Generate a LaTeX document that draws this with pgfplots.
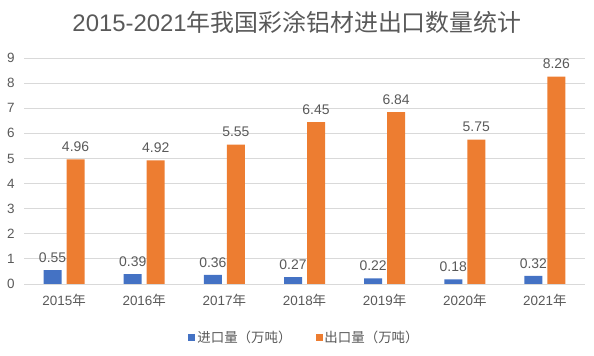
\documentclass[border=0pt]{standalone}
\usepackage{pgfplots}
\pgfplotsset{compat=1.18}
\usepackage{fontspec}
\setmainfont{Liberation Sans}
\newfontfamily\cjk{Noto Sans CJK SC}
\definecolor{cblue}{HTML}{4472C4}
\definecolor{corange}{HTML}{ED7D31}
\definecolor{txt}{HTML}{595959}
\definecolor{gridc}{HTML}{D9D9D9}
\begin{document}
\begin{tikzpicture}
\path[use as bounding box] (0,0) rectangle (594bp,356bp);
\begin{axis}[
  at={(24bp,72bp)}, anchor=south west,
  scale only axis, width=561bp, height=226bp,
  ybar, bar width=18bp,
  xmin=-0.5, xmax=6.5, ymin=0, ymax=9,
  ytick={0,1,...,9},
  xtick=data,
  xticklabels={2015{\cjk 年},2016{\cjk 年},2017{\cjk 年},2018{\cjk 年},2019{\cjk 年},2020{\cjk 年},2021{\cjk 年}},
  /pgf/number format/assume math mode=true,
  ymajorgrids=true, xmajorgrids=false,
  y grid style={draw=gridc, line width=0.9pt},
  axis line style={draw=none},
  major tick length=0pt,
  tick label style={font=\fontsize{13.5}{15}\selectfont, text=txt},
  yticklabel style={xshift=-6bp},
  xticklabel style={yshift=-7bp},
  nodes near coords,
  every node near coord/.append style={font=\fontsize{14}{15}\selectfont, text=txt, yshift=4bp},
  point meta=explicit symbolic,
  legend style={at={(0.5,-0.235)}, anchor=center, draw=none, fill=none, legend columns=2, font=\cjk\fontsize{13.5}{15}\selectfont, text=txt, /tikz/every even column/.append style={column sep=22bp}},
  legend image code/.code={\fill[#1] (0bp,-3.5bp) rectangle (7bp,3.5bp);},
  enlarge x limits=false,
]
\addplot[fill=cblue, draw=none, bar shift=-11.5bp] coordinates {(0,0.55)[0.55] (1,0.39)[0.39] (2,0.36)[0.36] (3,0.27)[0.27] (4,0.22)[0.22] (5,0.18)[0.18] (6,0.32)[0.32]};
\addplot[fill=corange, draw=none, bar shift=11.5bp] coordinates {(0,4.96)[4.96] (1,4.92)[4.92] (2,5.55)[5.55] (3,6.45)[6.45] (4,6.84)[6.84] (5,5.75)[5.75] (6,8.26)[8.26]};
\legend{进口量（万吨）,出口量（万吨）}
\end{axis}
\node[text=txt, font=\fontsize{24}{26}\selectfont] at (297bp,334bp) {2015-2021{\cjk 年我国彩涂铝材进出口数量统计}};
\end{tikzpicture}
\end{document}
